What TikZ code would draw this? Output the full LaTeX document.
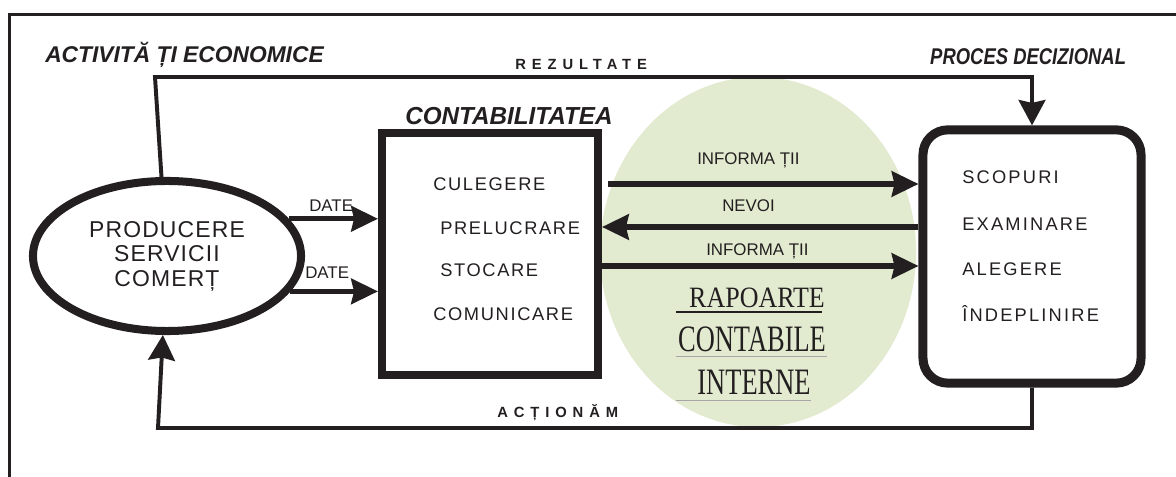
\documentclass[tikz,border=0pt]{standalone}
\usepackage{fontspec}
\setmainfont{Liberation Sans}
\newfontfamily\rapfont{Liberation Serif}
\newfontfamily\boxfont[LetterSpace=9]{Liberation Sans}
\newfontfamily\ovalfont[LetterSpace=5]{Liberation Sans}
\newfontfamily\decfont[LetterSpace=12]{Liberation Sans}
\newfontfamily\widefont[LetterSpace=40]{Liberation Sans}
\usetikzlibrary{arrows.meta}
\usetikzlibrary{shapes.geometric}
\definecolor{ink}{RGB}{35,31,32}
\definecolor{sage}{RGB}{226,235,208}

\begin{document}
\begin{tikzpicture}[
        x=0.025cm, y=-0.025cm, % un pixel del dibujo original
        ink, % color del trazo y del texto
        outerframe/.style={line width=2.6pt}, % marco exterior
        loopline/.style={-{Stealth[length=18pt, width=19pt, inset=2pt]}, line width=2.8pt}, % lazos de retroalimentacion
        flow/.style={-{Stealth[length=19pt, width=18pt, inset=2pt]}, line width=3.6pt}, % flechas de datos
        title/.style={font=\fontsize{16.2}{18}\selectfont\bfseries\itshape, inner sep=0pt, anchor=base west}, % titulos
        tag/.style={font=\fontsize{12}{14}\selectfont, inner sep=0pt, anchor=base west}, % etiquetas de flechas
        item/.style={font=\boxfont\fontsize{13}{15}\selectfont, inner sep=0pt, anchor=base west}, % tareas contables
        goal/.style={font=\decfont\fontsize{13}{15}\selectfont, inner sep=0pt, anchor=base west}, % etapas de decision
        spaced/.style={font=\widefont\bfseries\fontsize{10.5}{12}\selectfont, inner sep=0pt, anchor=base west}, % textos espaciados
        report/.style={font=\rapfont\fontsize{26.5}{30}\selectfont, inner sep=0pt, anchor=base}, % informes
        underline/.style={line width=0.7pt, ink!40} % lineas bajo los informes
    ]
        \useasboundingbox (0,0) rectangle (1176,477);

        % --- Fondo verde de los informes ---
        \fill[sage] (758,252) ellipse [x radius=3.95cm, y radius=4.375cm];

        % --- Marco ---
        \draw[outerframe] (1176,14.5) -| (9.5,477);

        % --- Bloques ---
        \node[draw, ellipse, line width=5.7pt, fill=white, minimum width=6.7cm, minimum height=3.75cm,
              align=center, font=\ovalfont\fontsize{16.3}{17.4}\selectfont] (prod) at (167,256)
              {PRODUCERE\\SERVICII\\COMERȚ};
        \node[draw, line width=5.7pt, fill=white, minimum width=5.4cm, minimum height=6.05cm] (cont) at (490,254) {};
        \node[draw, line width=6.4pt, fill=white, rounded corners=0.62cm, minimum width=5.45cm,
              minimum height=6.33cm] (dec) at (1032,256.5) {};

        % --- Lazos ---
        \coordinate (rtop) at (155,77);
        \coordinate (rbot) at (158,428);
        \draw[loopline] (prod.94) -- (rtop) -| (dec.north);
        \draw[loopline] (dec.south) |- (rbot) -- (prod.-93);

        % --- Flechas de datos ---
        \draw[flow] (prod.17) -- (prod.17 -| cont.west);
        \draw[flow] (prod.-16) -- (prod.-16 -| cont.west);

        \coordinate (inf1) at (608,184);
        \coordinate (nev) at (0,227);
        \coordinate (inf2) at (0,266);
        \draw[flow] (inf1) -- (inf1 -| dec.west);
        \draw[flow] (dec.west |- nev) -- (cont.east |- nev);
        \draw[flow] (cont.east |- inf2) -- (dec.west |- inf2);

        % --- Titulos ---
        \node[title] (act) at (45,63) {ACTIVITĂ ȚI ECONOMICE};
        \node[title, xscale=0.81] (proc) at (930,65) {PROCES DECIZIONAL};
        \node[title, font=\fontsize{17.5}{20}\selectfont\bfseries\itshape, xscale=0.985] (ctit) at (405,125) {CONTABILITATEA};
        \node[spaced] (rez) at (515,70) {REZULTATE};
        \node[spaced] (actn) at (497,418) {ACȚIONĂM};

        % --- Etiquetas de flechas ---
        \node[tag] (d1) at (309,212) {DATE};
        \node[tag] (d2) at (305,279) {DATE};
        \node[tag] (i1) at (697,165) {INFORMA ȚII};
        \node[tag] (nv) at (722,212) {NEVOI};
        \node[tag] (i2) at (706,256) {INFORMA ȚII};

        % --- Contabilidad ---
        \node[item] (cul) at (433,191) {CULEGERE};
        \node[item] (pre) at (440,235) {PRELUCRARE};
        \node[item] (sto) at (440,277) {STOCARE};
        \node[item] (com) at (433,321) {COMUNICARE};

        % --- Decision ---
        \node[goal] (sco) at (962,184) {SCOPURI};
        \node[goal] (exa) at (962,231) {EXAMINARE};
        \node[goal] (ale) at (962,276) {ALEGERE};
        \node[goal] (ind) at (962,322) {ÎNDEPLINIRE};

        % --- Informes ---
        \node[report, font=\rapfont\fontsize{21}{24}\selectfont, xscale=0.88] (rap) at (757,308) {RAPOARTE};
        \node[report, xscale=0.71] (ctb) at (752,352) {CONTABILE};
        \node[report, xscale=0.71] (int) at (754,395) {INTERNE};
        \draw[line width=1.6pt] (676,312) -- (822,312);
        \draw[underline] (676,356) -- (827,356);
        \draw[underline] (676,400) -- (811,400);

    \end{tikzpicture}
\end{document}
